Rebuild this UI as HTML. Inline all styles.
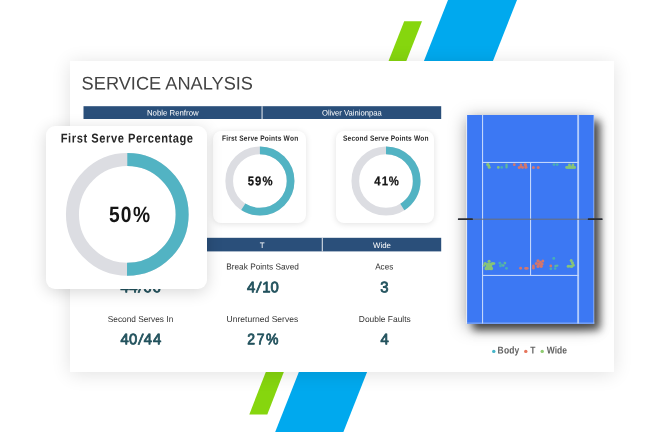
<!DOCTYPE html>
<html lang="en">
<head>
<meta charset="utf-8">
<title>Service Analysis</title>
<style>
html,body{margin:0;padding:0;background:#fff;}
body{width:650px;height:432px;position:relative;overflow:hidden;font-family:"Liberation Sans",sans-serif;}
.abs{position:absolute;}
svg{position:absolute;left:0;top:0;width:650px;height:432px;overflow:visible;}
svg text{font-family:"Liberation Sans",sans-serif;}
#main{left:70px;top:61px;width:544px;height:311px;background:#fff;box-shadow:0 2px 18px rgba(0,0,0,0.12);}
.sc{background:#fff;border-radius:8px;box-shadow:0 1px 6px rgba(0,0,0,0.12);}
#sc1{left:213px;top:130.7px;width:93.2px;height:92.8px;}
#sc2{left:336.1px;top:130.7px;width:98px;height:92.8px;}
#court{left:466.5px;top:115px;width:127.8px;height:208.5px;background:#3c78f3;box-shadow:5.5px 5.5px 8px rgba(0,0,0,0.66),-1px 3px 16px rgba(0,0,0,0.34);}
#big{left:46px;top:126px;width:161px;height:162.5px;background:#fff;border-radius:9px;box-shadow:0 3px 16px rgba(0,0,0,0.16);}
.gp{text-rendering:geometricPrecision;}
</style>
</head>
<body>

<!-- background stripes -->
<svg viewBox="0 0 650 432">
  <polygon points="404.2,21.2 422,21.2 402,72 384.2,72" fill="#86d60e"/>
  <polygon points="448,0 517,0 488.6,72 419.6,72" fill="#00a9ee"/>
  <polygon points="269.7,362 287.7,362 267.3,414.4 249.3,414.4" fill="#86d60e"/>
  <polygon points="302.8,362 371,362 343.4,432 275.2,432" fill="#00a9ee"/>
</svg>

<!-- main card -->
<div id="main" class="abs"></div>
<div id="sc1" class="abs sc"></div>
<div id="sc2" class="abs sc"></div>
<div id="court" class="abs"></div>

<!-- main card content -->
<svg viewBox="0 0 650 432">
  <text transform="matrix(1,0.0006,0,1,0,-0.0490)" x="81.6" y="89.45" font-size="18.3" fill="#434343" textLength="171.4" lengthAdjust="spacingAndGlyphs">SERVICE ANALYSIS</text>

  <!-- player bar -->
  <rect x="83.5" y="106.2" width="357.7" height="12.8" fill="#2a4f7a"/>
  <rect x="261.6" y="106.2" width="0.9" height="12.8" fill="#fff"/>
  <text transform="matrix(1,0.0006,0,1,0,-0.1037)" x="172.8" y="115.6" font-size="7.9" fill="#fff" text-anchor="middle" textLength="51.7" lengthAdjust="spacingAndGlyphs">Noble Renfrow</text>
  <text transform="matrix(1,0.0006,0,1,0,-0.2111)" x="351.8" y="115.6" font-size="7.9" fill="#fff" text-anchor="middle" textLength="59.7" lengthAdjust="spacingAndGlyphs">Oliver Vainionpaa</text>

  <!-- small donut 1 -->
  <text transform="matrix(1,0.0006,0,1,0,-0.1332) scale(0.88,1)" x="252.23 257.03 259.33 262.48 266.87 269.59 271.89 277.12 281.51 284.65 289.05 293.44 295.75 300.97 305.77 308.08 312.88 315.60 320.00 322.30 329.60 334.41" y="140.8" font-size="7.5" font-weight="bold" fill="#2a2a2a" class="gp">First Serve Points Won</text>
  <circle cx="259.9" cy="181" r="30.7" fill="none" stroke="#dcdde2" stroke-width="7.7"/>
  <circle cx="259.9" cy="181" r="30.7" fill="none" stroke="#52b3c3" stroke-width="7.7" stroke-dasharray="113.81 192.9" transform="rotate(-90 259.9 181)"/>
  <text transform="matrix(1,0.0006,0,1,0,-0.1487) scale(0.9,1)" x="275.42 283.26 291.71" y="185.3" font-size="12.6" font-weight="bold" fill="#151515" class="gp" stroke="#151515" stroke-width="0.25">59%</text>

  <!-- small donut 2 -->
  <text transform="matrix(1,0.0006,0,1,0,-0.2058) scale(0.88,1)" x="389.78 394.98 399.35 403.72 408.50 413.28 418.06 420.34 425.54 429.90 433.02 437.39 441.76 444.04 449.24 454.02 456.30 461.08 463.77 468.14 470.42 477.70 482.47" y="140.8" font-size="7.5" font-weight="bold" fill="#2a2a2a" class="gp">Second Serve Points Won</text>
  <circle cx="386" cy="181" r="30.7" fill="none" stroke="#dcdde2" stroke-width="7.7"/>
  <circle cx="386" cy="181" r="30.7" fill="none" stroke="#52b3c3" stroke-width="7.7" stroke-dasharray="79.09 192.9" transform="rotate(-90 386 181)"/>
  <text transform="matrix(1,0.0006,0,1,0,-0.2245) scale(0.9,1)" x="415.73 424.23 431.94" y="185.3" font-size="12.6" font-weight="bold" fill="#151515" class="gp" stroke="#151515" stroke-width="0.25">41%</text>

  <!-- placement bar -->
  <rect x="83.5" y="237.8" width="357.7" height="13.6" fill="#2a4f7a"/>
  <rect x="202.2" y="237.8" width="0.9" height="13.6" fill="#fff"/>
  <rect x="321.8" y="237.8" width="0.9" height="13.6" fill="#fff"/>
  <text transform="matrix(1,0.0006,0,1,0,-0.0858)" x="143" y="247.9" font-size="7.9" fill="#fff" text-anchor="middle">Body</text>
  <text transform="matrix(1,0.0006,0,1,0,-0.1573)" x="262.2" y="247.9" font-size="7.9" fill="#fff" text-anchor="middle">T</text>
  <text transform="matrix(1,0.0006,0,1,0,-0.2292)" x="382" y="247.9" font-size="7.9" fill="#fff" text-anchor="middle" textLength="17.9" lengthAdjust="spacingAndGlyphs">Wide</text>

  <!-- metrics row 1 -->
  <text transform="matrix(1,0.0006,0,1,0,-0.0843)" x="140.5" y="269.6" font-size="8.6" fill="#333" text-anchor="middle">First Serves In</text>
  <text transform="matrix(1,0.0006,0,1,0,-0.0723) scale(0.98,1)" x="122.92 131.79 140.71 146.27 155.66" y="292.3" font-size="15.2" font-weight="normal" fill="#22525d" class="gp" stroke="#22525d" stroke-width="0.8" stroke-linejoin="round">44<tspan rotate="8">/</tspan>66</text>
  <text transform="matrix(1,0.0006,0,1,0,-0.1576)" x="262.6" y="269.6" font-size="8.6" fill="#333" text-anchor="middle" textLength="72.8" lengthAdjust="spacingAndGlyphs">Break Points Saved</text>
  <text transform="matrix(1,0.0006,0,1,0,-0.1482) scale(0.98,1)" x="252.10 261.22 267.72 276.04" y="292.3" font-size="15.2" font-weight="normal" fill="#22525d" class="gp" stroke="#22525d" stroke-width="0.8" stroke-linejoin="round">4<tspan rotate="8">/</tspan>10</text>
  <text transform="matrix(1,0.0006,0,1,0,-0.2305)" x="384.2" y="269.6" font-size="8.6" fill="#333" text-anchor="middle" textLength="18.1" lengthAdjust="spacingAndGlyphs">Aces</text>
  <text transform="matrix(1,0.0006,0,1,0,-0.2281) scale(0.98,1)" x="387.99" y="292.3" font-size="15.2" font-weight="normal" fill="#22525d" class="gp" stroke="#22525d" stroke-width="0.8" stroke-linejoin="round">3</text>

  <!-- metrics row 2 -->
  <text transform="matrix(1,0.0006,0,1,0,-0.0843)" x="140.5" y="322" font-size="8.6" fill="#333" text-anchor="middle" textLength="65.5" lengthAdjust="spacingAndGlyphs">Second Serves In</text>
  <text transform="matrix(1,0.0006,0,1,0,-0.0723) scale(0.98,1)" x="122.92 131.55 140.71 146.69 156.08" y="344.2" font-size="15.2" font-weight="normal" fill="#22525d" class="gp" stroke="#22525d" stroke-width="0.8" stroke-linejoin="round">40<tspan rotate="8">/</tspan>44</text>
  <text transform="matrix(1,0.0006,0,1,0,-0.1574)" x="262.4" y="322" font-size="8.6" fill="#333" text-anchor="middle" textLength="71.6" lengthAdjust="spacingAndGlyphs">Unreturned Serves</text>
  <text transform="matrix(1,0.0006,0,1,0,-0.1483) scale(0.92,1)" x="268.69 279.11 289.02" y="344.2" font-size="15.2" font-weight="normal" fill="#22525d" class="gp" stroke="#22525d" stroke-width="0.8" stroke-linejoin="round">27%</text>
  <text transform="matrix(1,0.0006,0,1,0,-0.2309)" x="384.8" y="322" font-size="8.6" fill="#333" text-anchor="middle" textLength="52" lengthAdjust="spacingAndGlyphs">Double Faults</text>
  <text transform="matrix(1,0.0006,0,1,0,-0.2283) scale(0.98,1)" x="388.32" y="344.2" font-size="15.2" font-weight="normal" fill="#22525d" class="gp" stroke="#22525d" stroke-width="0.8" stroke-linejoin="round">4</text>

  <!-- court lines -->
  <g fill="#c2d6fb">
    <rect x="482" y="115" width="1.1" height="208.5"/>
    <rect x="577.2" y="115" width="1.9" height="208.5" fill="#b3ccfa"/>
    <rect x="482" y="161.9" width="97" height="1.1"/>
    <rect x="482" y="274.9" width="97" height="1.1"/>
    <rect x="530" y="162" width="1.1" height="113.5"/>
    <rect x="593.5" y="115" width="0.8" height="208.5" opacity="0.8"/>
    <rect x="466.2" y="115" width="0.9" height="208.5" fill="#e9effd"/>
    <rect x="467" y="322.7" width="127.5" height="0.8" opacity="0.8"/>
  </g>

  <!-- top dots -->
  <g style="filter:blur(0.4px)" opacity="0.92">
    <circle cx="487.6" cy="164.6" r="1.5" fill="#8ecb6e"/>
    <circle cx="488.6" cy="165.6" r="1.5" fill="#8ecb6e"/>
    <circle cx="489.2" cy="167.2" r="1.5" fill="#8ecb6e"/>
    <circle cx="488.2" cy="163.9" r="1" fill="#8ecb6e"/>
    <circle cx="498.3" cy="167.4" r="1.35" fill="#8ecb6e"/>
    <circle cx="501.7" cy="167.4" r="1.3" fill="#4ab3b0"/>
    <rect x="505.4" y="163.5" width="2.3" height="5.1" rx="1.15" fill="#62bd96"/>
    <circle cx="514.3" cy="164.7" r="1.4" fill="#e27660"/>
    <circle cx="519.2" cy="167.4" r="1.5" fill="#e27660"/>
    <circle cx="521" cy="166.6" r="1.6" fill="#e27660"/>
    <circle cx="520.9" cy="164.6" r="1.2" fill="#e27660"/>
    <circle cx="522.6" cy="167.5" r="1.4" fill="#e27660"/>
    <rect x="524.4" y="163.5" width="2.5" height="5.3" rx="1.25" fill="#e27660"/>
    <circle cx="526.2" cy="167.2" r="1.3" fill="#e27660"/>
    <circle cx="525" cy="164.5" r="1.3" fill="#e27660"/>
    <circle cx="533.4" cy="167.4" r="1.5" fill="#e27660"/>
    <circle cx="538.2" cy="167.4" r="1.5" fill="#e27660"/>
    <circle cx="554" cy="164.6" r="1.4" fill="#4ab3b0"/>
    <circle cx="557.2" cy="164.6" r="1.4" fill="#4ab3b0"/>
    <circle cx="566.6" cy="167.4" r="1.4" fill="#8ecb6e"/>
    <circle cx="568.4" cy="167.2" r="1.6" fill="#8ecb6e"/>
    <circle cx="570.4" cy="167" r="1.7" fill="#8ecb6e"/>
    <circle cx="572.6" cy="167" r="1.7" fill="#8ecb6e"/>
    <circle cx="574.6" cy="167.4" r="1.4" fill="#8ecb6e"/>
    <circle cx="569.4" cy="165" r="1.4" fill="#8ecb6e"/>
    <circle cx="573" cy="164.9" r="1.4" fill="#8ecb6e"/>
    <rect x="566" y="166.2" width="9.6" height="2.6" rx="1.3" fill="#8ecb6e"/>
  </g>

  <!-- bottom dots -->
  <g style="filter:blur(0.4px)" opacity="0.92">
    <circle cx="489" cy="265.8" r="3.2" fill="#8ecb6e"/>
    <circle cx="489.1" cy="261.2" r="1.5" fill="#8ecb6e"/>
    <circle cx="485.2" cy="263.6" r="1.7" fill="#8ecb6e"/>
    <circle cx="492.4" cy="263.6" r="1.7" fill="#8ecb6e"/>
    <circle cx="486.4" cy="268.4" r="1.9" fill="#8ecb6e"/>
    <circle cx="491.2" cy="268.4" r="1.9" fill="#8ecb6e"/>
    <circle cx="488.8" cy="268.6" r="1.6" fill="#8ecb6e"/>
    <circle cx="494" cy="263.5" r="1.3" fill="#8ecb6e"/>
    <circle cx="484" cy="265.5" r="1.2" fill="#8ecb6e"/>
    <circle cx="499.8" cy="263.1" r="1.4" fill="#4ab3b0"/>
    <circle cx="504.9" cy="263.1" r="1.4" fill="#62bd96"/>
    <circle cx="500.5" cy="265.9" r="1.4" fill="#4ab3b0"/>
    <circle cx="503.2" cy="265.5" r="1.3" fill="#62bd96"/>
    <circle cx="506.5" cy="268.3" r="1.4" fill="#4ab3b0"/>
    <circle cx="501.8" cy="264.6" r="1" fill="#4ab3b0"/>
    <circle cx="520.6" cy="268.3" r="1.45" fill="#e27660"/>
    <rect x="524.2" y="266.9" width="4.4" height="2.8" rx="1.4" fill="#e27660"/>
    <rect x="532.1" y="264.4" width="2.6" height="5.2" rx="1.3" fill="#e27660"/>
    <circle cx="538" cy="260.8" r="1.6" fill="#e27660"/>
    <circle cx="542.8" cy="261" r="1.5" fill="#e27660"/>
    <circle cx="536.4" cy="263.5" r="1.6" fill="#e27660"/>
    <circle cx="539.2" cy="264" r="1.7" fill="#e27660"/>
    <circle cx="542" cy="264" r="1.6" fill="#e27660"/>
    <circle cx="538" cy="266.4" r="1.6" fill="#e27660"/>
    <circle cx="541.2" cy="266.3" r="1.6" fill="#e27660"/>
    <circle cx="540.4" cy="262.2" r="1.4" fill="#e27660"/>
    <circle cx="553.8" cy="258.4" r="1.45" fill="#4ab3b0"/>
    <circle cx="550.8" cy="266" r="1.4" fill="#e27660"/>
    <circle cx="550.8" cy="268.8" r="1.35" fill="#4ab3b0"/>
    <circle cx="555.6" cy="266" r="1.3" fill="#62bd96"/>
    <circle cx="557.2" cy="265.6" r="1.2" fill="#62bd96"/>
    <circle cx="555.2" cy="268.6" r="1.25" fill="#4ab3b0"/>
    <circle cx="571.2" cy="260.6" r="1.5" fill="#8ecb6e"/>
    <circle cx="572.4" cy="262.8" r="1.6" fill="#8ecb6e"/>
    <circle cx="573.2" cy="265.2" r="1.6" fill="#8ecb6e"/>
    <circle cx="571.6" cy="266.4" r="1.6" fill="#8ecb6e"/>
    <circle cx="568.2" cy="266.2" r="1.5" fill="#8ecb6e"/>
    <circle cx="570" cy="266.3" r="1.3" fill="#8ecb6e"/>
  </g>

  <!-- net -->
  <rect x="467" y="218.7" width="127.5" height="1" fill="#6b6e74"/>
  <rect x="457.9" y="218.3" width="15" height="1.8" rx="0.6" fill="#2a2d33"/>
  <rect x="587.8" y="218.3" width="14.8" height="1.8" rx="0.6" fill="#2a2d33"/>

  <!-- legend -->
  <circle cx="493.8" cy="351.4" r="1.7" fill="#45b4c8"/>
  <text transform="matrix(1,0.0006,0,1,0,-0.2986) scale(0.85,1)" x="585.45 592.81 599.06 605.32" y="353.45" font-size="10" font-weight="bold" fill="#626262" class="gp">Body</text>
  <circle cx="525.8" cy="351.4" r="1.7" fill="#e6755c"/>
  <text transform="matrix(1,0.0006,0,1,0,-0.3182) scale(0.85,1)" x="623.89" y="353.45" font-size="10" font-weight="bold" fill="#626262" class="gp">T</text>
  <circle cx="542.2" cy="351.4" r="1.7" fill="#8fcb70"/>
  <text transform="matrix(1,0.0006,0,1,0,-0.3280) scale(0.85,1)" x="643.17 652.60 655.38 661.49" y="353.45" font-size="10" font-weight="bold" fill="#626262" class="gp">Wide</text>
</svg>

<!-- floating big card -->
<div id="big" class="abs"></div>
<svg viewBox="0 0 650 432">
  <text transform="matrix(1,0.0006,0,1,0,-0.0365) scale(0.87,1)" x="69.83 78.29 82.48 88.10 95.85 100.75 104.94 114.12 121.87 127.49 135.25 143.00 147.19 156.37 164.12 169.74 177.49 185.25 193.70 198.60 206.36 214.81" y="142.45" font-size="12.8" font-weight="bold" fill="#262626" class="gp">First Serve Percentage</text>
  <circle cx="127.3" cy="214.4" r="54.85" fill="none" stroke="#dcdde2" stroke-width="13"/>
  <circle cx="127.3" cy="214.4" r="54.85" fill="none" stroke="#52b3c3" stroke-width="13" stroke-dasharray="172.32 344.63" transform="rotate(-90 127.3 214.4)"/>
  <text transform="matrix(1,0.0006,0,1,0,-0.0655) scale(0.87,1)" x="125.41 138.90 153.01" y="222.05" font-size="22.1" font-weight="bold" fill="#151515" class="gp">50%</text>
</svg>

</body>
</html>
